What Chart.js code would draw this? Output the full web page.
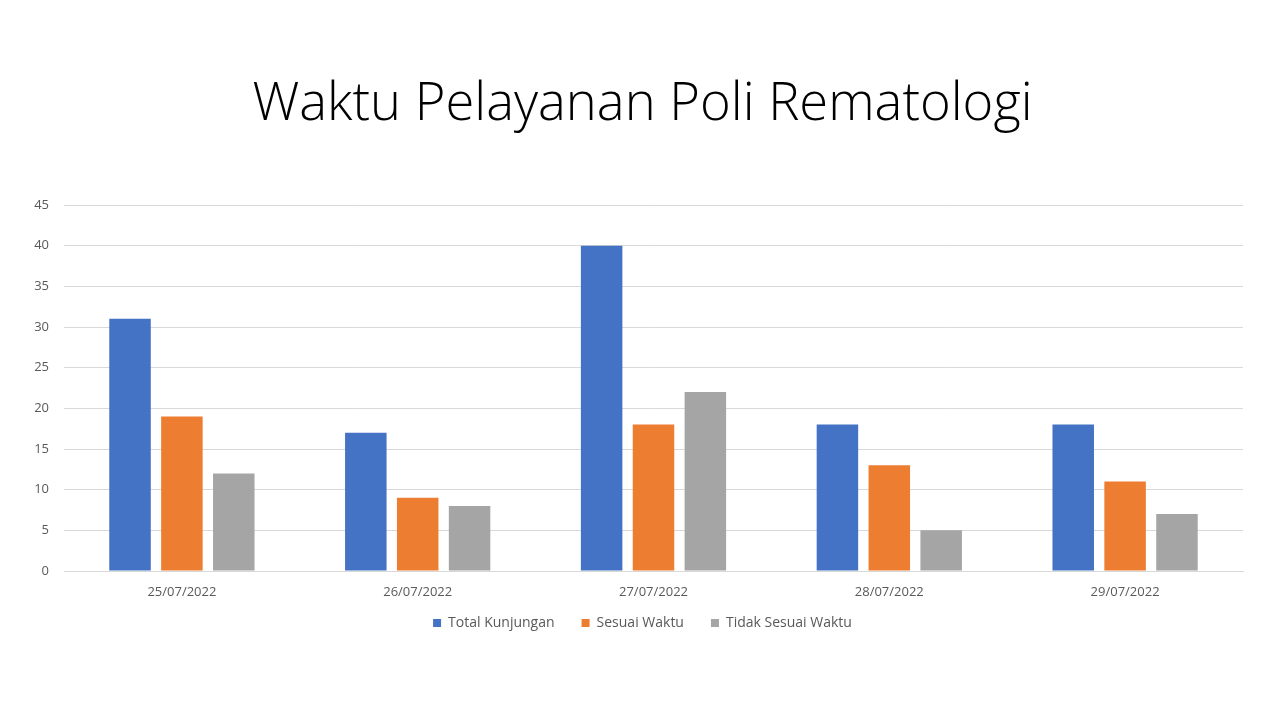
<!DOCTYPE html>
<html>
<head>
<meta charset="utf-8">
<script src="https://cdn.jsdelivr.net/npm/chart.js@4.4.0/dist/chart.umd.min.js"></script>
<style>
html,body{margin:0;padding:0;background:#fff;}
#wrap{width:1279px;height:714px;position:relative;}
</style>
</head>
<body>
<div id="wrap"><canvas id="c" width="1279" height="714"></canvas></div>
<script>
const categories = ["25/07/2022","26/07/2022","27/07/2022","28/07/2022","29/07/2022"];
const totalKunjungan = [31,17,40,18,18];
const sesuaiWaktu = [19,9,18,13,11];
const tidakSesuaiWaktu = [12,8,22,5,7];
const seriesNames = ["Total Kunjungan","Sesuai Waktu","Tidak Sesuai Waktu"];
const yTicks = [0,5,10,15,20,25,30,35,40,45];

const colors = ["#4472C4","#ED7D31","#A5A5A5"];
const ds = [totalKunjungan, sesuaiWaktu, tidakSesuaiWaktu].map((d,i)=>({
  label: seriesNames[i], data: d, backgroundColor: colors[i],
  categoryPercentage: 0.66, barPercentage: 0.80
}));

const noClip = ax => { ax._computeLabelArea = () => undefined; };

new Chart(document.getElementById('c'), {
  type: 'bar',
  data: { labels: categories, datasets: ds },
  options: {
    responsive: false, animation: false,
    layout: { padding: { left: 42, right: 36, top: 0, bottom: 74 } },
    plugins: {
      title: { display: true, text: "Waktu Pelayanan Poli Rematologi",
        font: { family: "Open Sans", size: 52.5, weight: 300 }, color: "#000",
        padding: { top: 74, bottom: 68 } },
      legend: { position: 'bottom',
        labels: { boxWidth: 8, boxHeight: 8, color: "#595959", padding: 27,
          font: { family: "Open Sans", size: 14 } } },
      tooltip: { enabled: false }
    },
    scales: {
      x: { grid: { display: false, drawTicks: false }, border: { color: "#D9D9D9" },
        afterFit: ax => { ax.height = 18; noClip(ax); },
        ticks: { color: "#595959", font: { family: "Open Sans", size: 13 }, padding: 13 } },
      y: { min: 0, max: 45, afterBuildTicks: ax => { ax.ticks = yTicks.map(v=>({value:v})); },
        afterFit: ax => { ax.width = 22; noClip(ax); },
        grid: { color: "#D9D9D9", drawTicks: false }, border: { display: false },
        ticks: { color: "#595959", font: { family: "Open Sans", size: 13 }, padding: 15 } }
    }
  }
});
</script>
</body>
</html>
